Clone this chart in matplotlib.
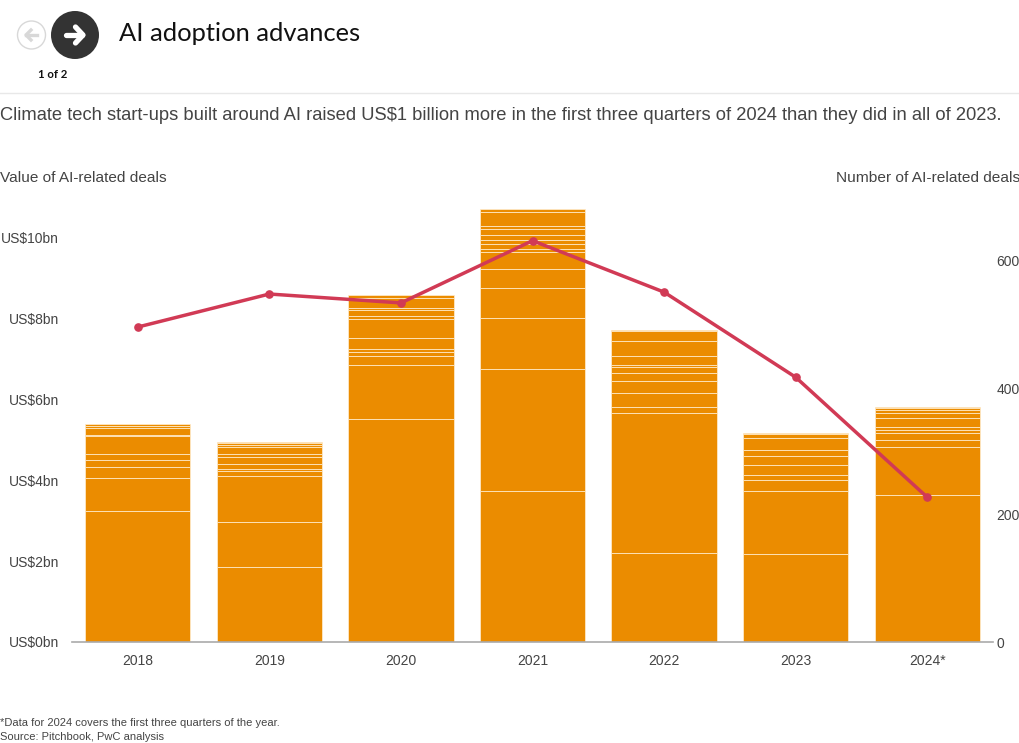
import numpy as np
from matplotlib import pyplot as plt
from matplotlib.patches import Circle

plt.rcParams['font.family'] = ['Liberation Sans', 'DejaVu Sans']

years = ['2018', '2019', '2020', '2021', '2022', '2023', '2024*']
# each deal/segment of the bars, US$bn, bottom to top
deals_2018 = [3.24, .82, .26, .17, .15, .45, .03, .17, .04, .06]
deals_2019 = [1.86, 1.11, 1.13, .11, .07, .12, .16, .07, .18, .05, .05, .02]
deals_2020 = [5.50, 1.35, .21, .11, .06, .27, .48, .06, .15, .05, .25, .07]
deals_2021 = [3.73, 3.02, 1.24, .74, .47, .43, .07, .12, .10, .12, .16, .07, .35, .07]
deals_2022 = [2.20, 3.46, .15, .35, .29, .18, .15, .06, .22, .37, .24, .04]
deals_2023 = [2.17, 1.56, .27, .12, .25, .22, .14, .31, .09, .04]
deals_2024 = [3.63, 1.19, .16, .17, .08, .07, .24, .11, .08, .05, .03]
all_deals = [deals_2018, deals_2019, deals_2020, deals_2021, deals_2022, deals_2023, deals_2024]
deal_count = [496, 548, 534, 632, 551, 417, 228]

value_ticks = [0, 2, 4, 6, 8, 10]
value_labels = ['US$0bn', 'US$2bn', 'US$4bn', 'US$6bn', 'US$8bn', 'US$10bn']
count_ticks = [0, 200, 400, 600]

W, H = 1020, 743
ORANGE = '#eb8c00'
RED = '#d13a55'
GREY = '#444444'
HEAD_FONT = ['Lato', 'DejaVu Sans']

fig = plt.figure(figsize=(W / 100, H / 100), dpi=100)
ax = fig.add_axes([72 / W, 1 - 642 / H, 921 / W, 442 / H])

x = np.arange(len(years))
for i, segs in enumerate(all_deals):
    ax.bar(x[i], segs, bottom=np.r_[0, np.cumsum(segs)[:-1]], width=0.8,
           color=ORANGE, edgecolor='#ffeccc', linewidth=0.55)
ax.set_xlim(-0.5, 6.5)
ax.set_ylim(0, 442 / 40.5)
ax.set_xticks(x, years)
ax.set_yticks(value_ticks, value_labels)
ax.tick_params(axis='x', length=0, pad=8.5, labelsize=10, labelcolor=GREY)
ax.tick_params(axis='y', length=0, pad=9.5, labelsize=10, labelcolor=GREY)
for s in ['top', 'left', 'right']:
    ax.spines[s].set_visible(False)
ax.spines['bottom'].set_color('#aaaaaa')
ax.spines['bottom'].set_linewidth(1.2)

ax2 = ax.twinx()
ax2.plot(x, deal_count, color=RED, linewidth=2.5, marker='o', markersize=5.2)
ax2.set_ylim(0, 442 / 0.635)
ax2.set_yticks(count_ticks)
ax2.tick_params(axis='y', length=0, pad=2.5, labelsize=10, labelcolor=GREY)
for s in ax2.spines.values():
    s.set_visible(False)

# header, texts and buttons in pixel coordinates
top = fig.add_axes([0, 0, 1, 1], facecolor='none')
top.set_xlim(0, W)
top.set_ylim(H, 0)
top.axis('off')
top.plot([0, W], [93, 93], color='#e8e8e8', linewidth=1)
top.add_patch(Circle((31.5, 35), 14, facecolor='white', edgecolor='#d8d8d8', linewidth=1))
top.add_patch(Circle((75, 35), 24, facecolor='#333333', edgecolor='none'))
top.plot([37.5, 26], [35, 35], color='#d8d8d8', linewidth=2.4)
top.plot([31, 26, 31], [30, 35, 40], color='#d8d8d8', linewidth=2.4, solid_joinstyle='round')
top.plot([66, 82], [35, 35], color='white', linewidth=3.8, solid_capstyle='round')
top.plot([75.5, 83, 75.5], [27, 35, 43], color='white', linewidth=3.8,
         solid_capstyle='round', solid_joinstyle='round')
top.text(53, 74.5, '1 of 2', fontsize=8.2, fontweight='bold', family=HEAD_FONT,
         color='#111111', ha='center', va='center')
top.text(119, 33.5, 'AI adoption advances', fontsize=18.35, family=HEAD_FONT,
         color='#111111', ha='left', va='center')
top.text(0, 116, 'Climate tech start-ups built around AI raised US$1 billion more in the first three quarters of 2024 than they did in all of 2023.',
         fontsize=13.25, color=GREY, ha='left', va='center')
top.text(0, 178.5, 'Value of AI-related deals', fontsize=11.05, color=GREY, ha='left', va='center')
top.text(1020, 178.5, 'Number of AI-related deals', fontsize=11.15, color=GREY, ha='right', va='center')
top.text(0, 723, '*Data for 2024 covers the first three quarters of the year.', fontsize=8, color=GREY, ha='left', va='center')
top.text(0, 737, 'Source: Pitchbook, PwC analysis', fontsize=8, color=GREY, ha='left', va='center')

plt.savefig('out.png', dpi=100)
